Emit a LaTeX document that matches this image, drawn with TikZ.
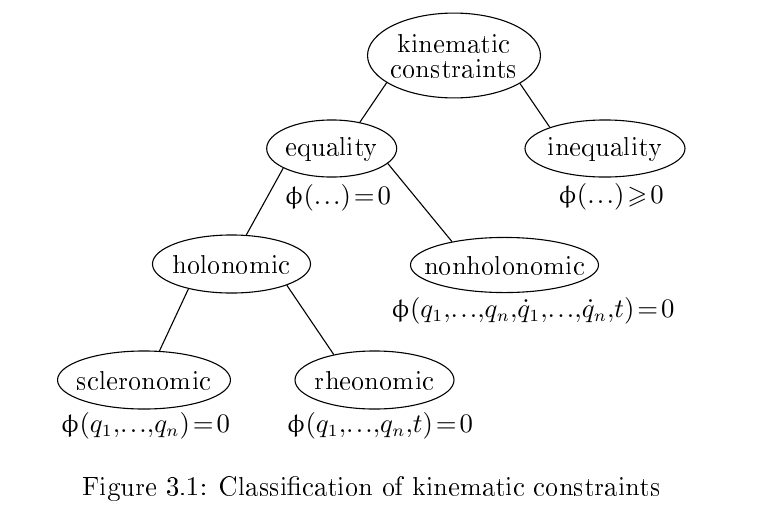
\documentclass[tikz,border=0pt]{standalone}
\usepackage[T1]{fontenc}
\usepackage{amssymb}
\usepackage{upgreek}
\usetikzlibrary{shapes.geometric}
\newcommand{\tightdots}{\mathord{.\mkern1.5mu.\mkern1.5mu.}}
\tikzset{
  cls/.style={ellipse, draw, line width=0.45pt, inner xsep=-30pt, inner ysep=-20pt,
    font=\fontsize{10.5}{10.25}\selectfont, align=center},
  eqn/.style={inner sep=0pt, font=\fontsize{10.5}{12}\selectfont},
  edge/.style={line width=0.45pt},
}
\begin{document}
\begin{tikzpicture}[x=0.41pt,y=-0.41pt]
\useasboundingbox (0,0) rectangle (781,518);
\node[cls, minimum width=70.9pt, minimum height=34.8pt] (k) at (454,55.5) {kinematic\\constraints};
\node[cls, minimum width=53.3pt, minimum height=23.4pt] (eq) at (331.7,148.5) {equality};
\node[cls, minimum width=65.6pt, minimum height=23.4pt] (ineq) at (605,148.5) {inequality};
\node[cls, minimum width=64.8pt, minimum height=23.8pt] (hol) at (231.5,264) {holonomic};
\node[cls, minimum width=77.1pt, minimum height=22.6pt] (nhol) at (504.5,265) {nonholonomic};
\node[cls, minimum width=70.9pt, minimum height=23.8pt] (scl) at (144,380) {scleronomic};
\node[cls, minimum width=65.2pt, minimum height=23.8pt] (rhe) at (374.5,380) {rheonomic};

\node[eqn] (eqf) at (338,198) {$\upphi(\tightdots)\mkern2mu{=}\mkern2mu0$};
\node[eqn] (ineqf) at (611,197) {$\upphi(\tightdots)\mkern2mu{\geqslant}\mkern2mu0$};
\node[eqn] (nholf) at (533,311) {$\upphi(q_1{,}\tightdots{,}q_n{,}\dot{q}_1{,}\tightdots{,}\dot{q}_n{,}t)\mkern2mu{=}\mkern2mu0$};
\node[eqn] (sclf) at (145.5,426) {$\upphi(q_1{,}\tightdots{,}q_n)\mkern2mu{=}\mkern2mu0$};
\node[eqn] (rhef) at (380,426) {$\upphi(q_1{,}\tightdots{,}q_n{,}t)\mkern2mu{=}\mkern2mu0$};

\node[inner sep=0pt, anchor=base, font=\fontfamily{lmr}\fontsize{10.9}{13}\selectfont] (cap) at (371.5,495.7) {Figure 3.1: Classification of kinematic constraints};

\draw[edge] (k.202.6) -- (eq.43.4);
\draw[edge] (k.337.9) -- (ineq.159.5);
\draw[edge] (eq.202.3) -- (hol.63.4);
\draw[edge] (eq.345.1) -- (nhol.156.6);
\draw[edge] (hol.210) -- (scl.62.4);
\draw[edge] (hol.339.2) -- (rhe.148);
\end{tikzpicture}
\end{document}
